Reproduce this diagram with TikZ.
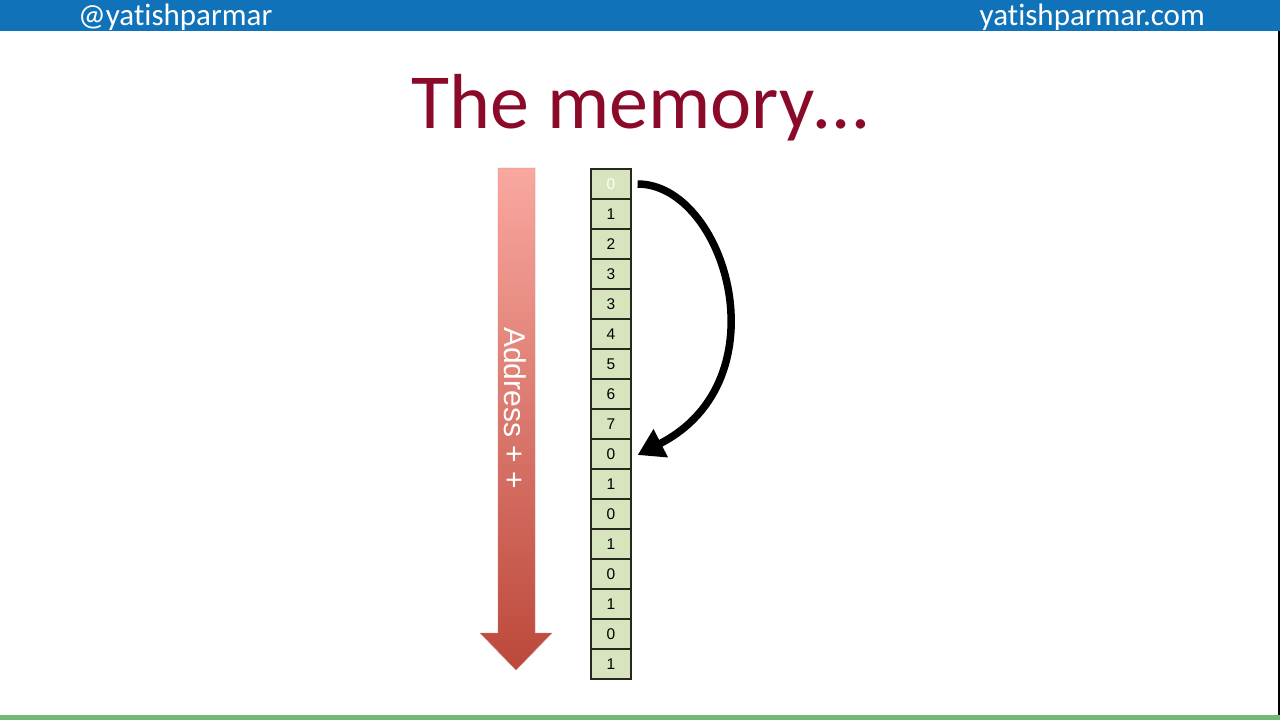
\documentclass[tikz,border=0pt]{standalone}
\usepackage{fontspec}
\setmainfont{Carlito}[Ligatures={NoCommon}]
\newfontfamily\arialf{Liberation Sans}
\usetikzlibrary{arrows.meta}
\definecolor{barblue}{RGB}{16,114,185}
\definecolor{bargreen}{RGB}{115,185,115}
\definecolor{titlered}{RGB}{139,10,42}
\definecolor{cellfill}{RGB}{215,228,189}
\definecolor{celledge}{RGB}{40,40,30}
\definecolor{arrtop}{RGB}{249,168,160}
\definecolor{arrbot}{RGB}{188,72,58}
\tikzset{
  cellbox/.style={draw=celledge, line width=1.2pt, fill=cellfill, minimum width=40pt, minimum height=30pt, inner sep=0pt, font=\arialf\fontsize{15.5}{17}\selectfont},
  bartext/.style={text=white, font=\fontsize{31}{34}\selectfont, inner sep=0pt},
  bigarrow/.style={line width=7.5pt, -{Triangle[length=26pt,width=30pt]}}
}
\begin{document}
\begin{tikzpicture}[x=1pt,y=-1pt]
\useasboundingbox (0,0) rectangle (1280,720);
\fill[white] (0,0) rectangle (1280,720);
% top bar
\fill[barblue] (0,0) rectangle (1280,31);
\node[bartext, anchor=base west] (handle) at (78,25) {@yatishparmar};
\node[bartext, anchor=base east] (site) at (1205,25) {yatishparmar.com};
% bottom band and right edge
\fill[bargreen] (0,715) rectangle (1280,720);
\fill[black] (1278,31) rectangle (1280,715);
% title
\node[text=titlered, font=\fontsize{78}{80}\selectfont, inner sep=0pt, anchor=base] (title) at (640,128) {The memory\ldots};
% address arrow
\shade[top color=arrtop, bottom color=arrbot, draw=arrtop!80!black, line width=0.4pt]
  (498,168) -- (535,168) -- (535,633) -- (552,633) -- (516,670) -- (480,633) -- (498,633) -- cycle;
\node[text=white, rotate=-90, font=\arialf\fontsize{30}{32}\selectfont, inner sep=0pt] (addr) at (515,408) {Address + +};
% memory cells
\foreach \v [count=\i from 0] in {0,1,2,3,3,4,5,6,7,0,1,0,1,0,1,0,1} {
  \node[cellbox] (c\i) at (611,{184+30*\i}) {\v};
}
\node[cellbox, text=white] at (c0) {0};
% curved arrow
\coordinate (k1) at (725,184);
\coordinate (k2) at (785,380);
\draw[bigarrow] ([xshift=6pt]c0.east) .. controls (k1) and (k2) .. ([xshift=6pt,yshift=-1pt]c9.east);
\end{tikzpicture}
\end{document}
